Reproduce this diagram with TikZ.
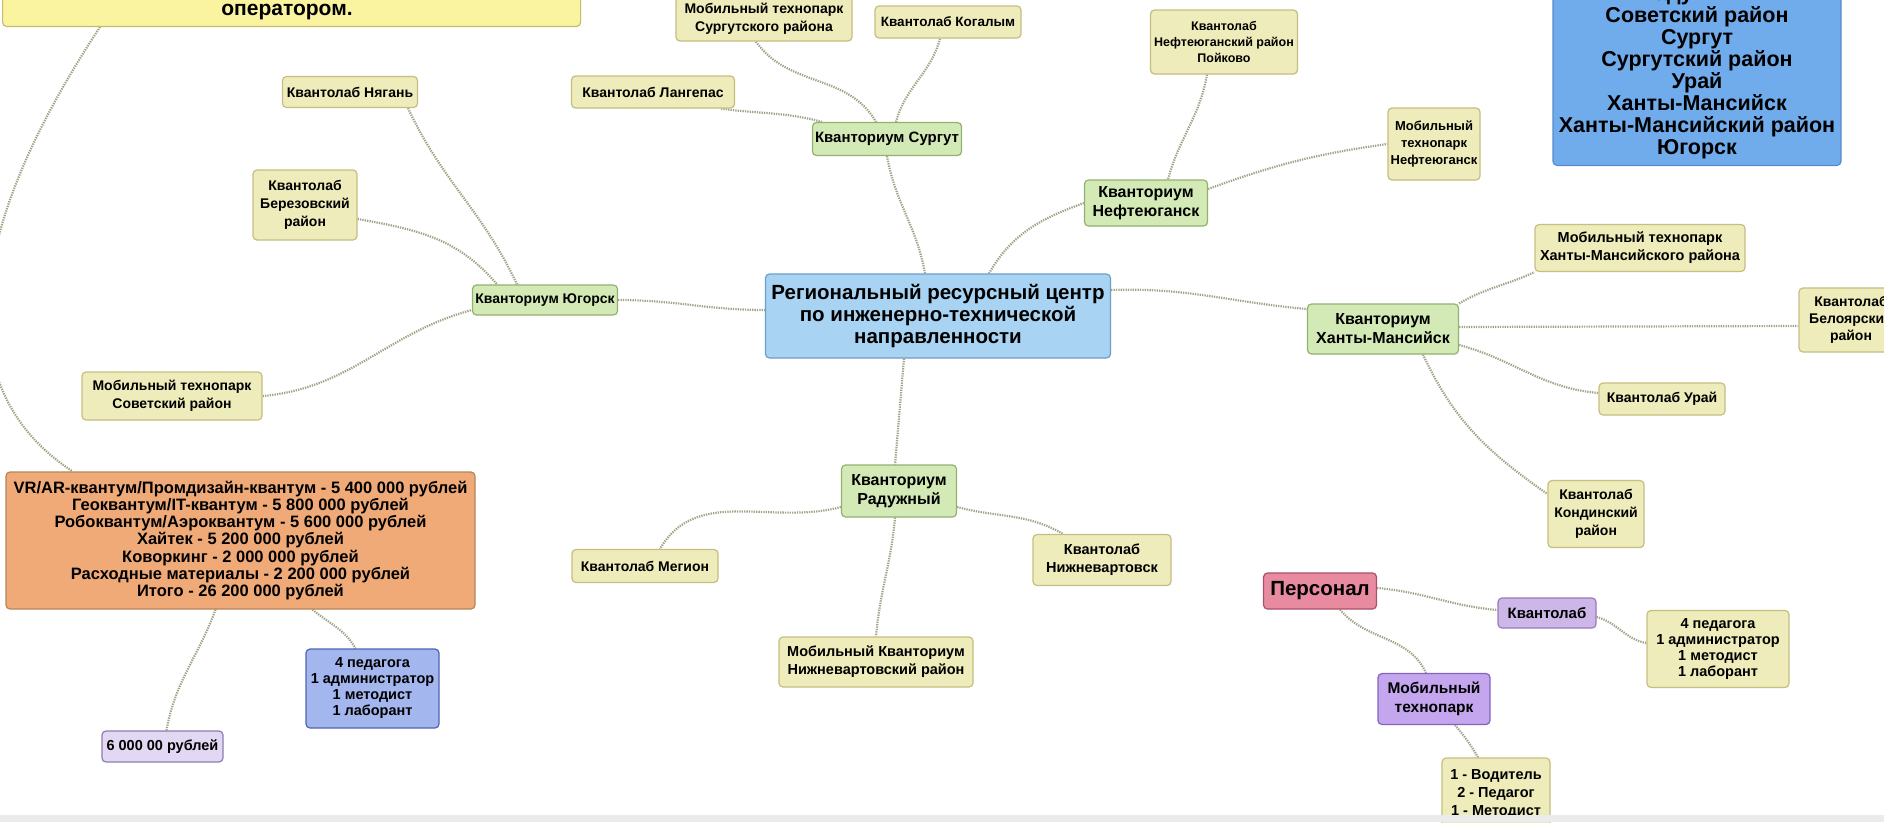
\documentclass[tikz,border=0pt]{standalone}
\usepackage{fontspec}
\setmainfont{Liberation Sans}
\usetikzlibrary{backgrounds}
\definecolor{ylfill}{RGB}{238,236,186}
\definecolor{yldraw}{RGB}{196,190,128}
\definecolor{gnfill}{RGB}{211,234,183}
\definecolor{gndraw}{RGB}{146,178,112}
\definecolor{ctrfill}{RGB}{168,211,242}
\definecolor{ctrdraw}{RGB}{110,158,200}
\definecolor{trfill}{RGB}{112,172,236}
\definecolor{trdraw}{RGB}{85,140,205}
\definecolor{topyfill}{RGB}{250,244,160}
\definecolor{topydraw}{RGB}{198,188,110}
\definecolor{orfill}{RGB}{240,170,120}
\definecolor{ordraw}{RGB}{178,134,90}
\definecolor{bsfill}{RGB}{163,182,238}
\definecolor{bsdraw}{RGB}{80,100,180}
\definecolor{monfill}{RGB}{226,216,244}
\definecolor{mondraw}{RGB}{140,125,175}
\definecolor{pkfill}{RGB}{232,138,160}
\definecolor{pkdraw}{RGB}{170,80,105}
\definecolor{klfill}{RGB}{205,182,232}
\definecolor{kldraw}{RGB}{150,125,185}
\definecolor{mpfill}{RGB}{196,166,238}
\definecolor{mpdraw}{RGB}{130,100,190}
\definecolor{lnk}{RGB}{162,162,134}
\newcommand\fz[2]{\fontsize{#1}{#2}\selectfont\bfseries}
\begin{document}
\begin{tikzpicture}[x=1pt,y=1pt]
\tikzset{
  box/.style={draw, rounded corners=4pt, line width=1.2pt, align=center, inner xsep=2pt, inner ysep=2pt, text=black},
  ybox/.style={box, fill=ylfill, draw=yldraw},
  gbox/.style={box, fill=gnfill, draw=gndraw},
  link/.style={draw=lnk, line width=2.2pt, dash pattern=on 1.3pt off 1.1pt},
}
\useasboundingbox (0,0) rectangle (1884,-822);
\clip (0,0) rectangle (1884,-822);

% top yellow note
\node[box, fill=topyfill, draw=topydraw, minimum width=578, minimum height=77, anchor=south west] (yeltop) at (2,-27) {};
\node[font=\fz{21}{24}] (yeltoptxt) at (287,-12) {оператором.};

% left cluster
\node[ybox, minimum width=135, minimum height=31, font=\fz{14}{17}] (nyagan) at (350,-92) {Квантолаб Нягань};
\node[ybox, minimum width=104, minimum height=70, font=\fz{14}{18}] (berez) at (305,-205) {Квантолаб\\Березовский\\район};
\node[gbox, minimum width=145, minimum height=30, font=\fz{14}{17}] (yugorsk) at (545,-300) {Кванториум Югорск};
\node[ybox, minimum width=180, minimum height=48, font=\fz{14}{18}] (sovet) at (172,-396) {Мобильный технопарк\\Советский район};

% Surgut cluster
\node[ybox, minimum width=163, minimum height=32, font=\fz{14}{17}] (langepas) at (653,-92) {Квантолаб Лангепас};
\node[ybox, minimum width=176, minimum height=44, font=\fz{14}{18}] (surgmob) at (764,-19) {Мобильный технопарк\\Сургутского района};
\node[ybox, minimum width=146, minimum height=32, font=\fz{13.5}{17}] (kogalym) at (948,-22) {Квантолаб Когалым};
\node[gbox, minimum width=149, minimum height=33, font=\fz{15}{18}] (surgut) at (887,-139) {Кванториум Сургут};

% Nefteyugansk cluster
\node[ybox, minimum width=147, minimum height=64, font=\fz{12.5}{16}] (neftpoik) at (1224,-42) {Квантолаб\\Нефтеюганский район\\Пойково};
\node[ybox, minimum width=92, minimum height=72, font=\fz{13}{17}] (neftmob) at (1434,-144) {Мобильный\\технопарк\\Нефтеюганск};
\node[gbox, minimum width=123, minimum height=46, font=\fz{16}{19}] (neft) at (1146,-203) {Кванториум\\Нефтеюганск};

% top right list
\node[box, fill=trfill, draw=trdraw, minimum width=288, inner ysep=6pt, anchor=south, font=\fz{21.5}{22}] (bluetr) at (1697,-166) {Радужный\\Советский район\\Сургут\\Сургутский район\\Урай\\Ханты-Мансийск\\Ханты-Мансийский район\\Югорск};

% center
\node[box, fill=ctrfill, draw=ctrdraw, minimum width=345, minimum height=84, font=\fz{20.5}{21.6}] (center) at (938,-316) {Региональный ресурсный центр\\по инженерно-технической\\направленности};

% Khanty-Mansiysk cluster
\node[ybox, minimum width=210, minimum height=47, font=\fz{14.5}{18}] (hmmob) at (1640,-248) {Мобильный технопарк\\Ханты-Мансийского района};
\node[gbox, minimum width=151, minimum height=50, font=\fz{16}{19}] (hm) at (1383,-329) {Кванториум\\Ханты-Мансийск};
\node[ybox, minimum width=104, minimum height=64, font=\fz{14}{17}] (belo) at (1851,-320) {Квантолаб\\Белоярский\\район};
\node[ybox, minimum width=126, minimum height=32, font=\fz{14}{17}] (urai) at (1662,-399) {Квантолаб Урай};
\node[ybox, minimum width=96, minimum height=67, font=\fz{14}{18}] (kond) at (1596,-514) {Квантолаб\\Кондинский\\район};

% Raduzhny cluster
\node[gbox, minimum width=115, minimum height=52, font=\fz{16}{19}] (raduzh) at (899,-491) {Кванториум\\Радужный};
\node[ybox, minimum width=146, minimum height=33, font=\fz{14}{17}] (megion) at (645,-566) {Квантолаб Мегион};
\node[ybox, minimum width=138, minimum height=51, font=\fz{14.5}{18}] (nizhn) at (1102,-560) {Квантолаб\\Нижневартовск};
\node[ybox, minimum width=194, minimum height=50, font=\fz{14.5}{18}] (mobnizh) at (876,-662) {Мобильный Кванториум\\Нижневартовский район};

% budget
\node[box, fill=orfill, draw=ordraw, minimum width=469, minimum height=137, font=\fz{16.5}{17.3}] (orange) at (240.5,-540.5) {VR/AR-квантум/Промдизайн-квантум - 5 400 000 рублей\\Геоквантум/IT-квантум - 5 800 000 рублей\\Робоквантум/Аэроквантум - 5 600 000 рублей\\Хайтек - 5 200 000 рублей\\Коворкинг - 2 000 000 рублей\\Расходные материалы - 2 200 000 рублей\\Итого - 26 200 000 рублей};
\node[box, fill=bsfill, draw=bsdraw, minimum width=133, minimum height=79, font=\fz{14.5}{16}] (bluestaff) at (372.5,-688.5) {4 педагога\\1 администратор\\1 методист\\1 лаборант};
\node[box, fill=monfill, draw=mondraw, minimum width=121, minimum height=31, font=\fz{14.5}{17}] (money) at (162.5,-746.5) {6 000 00 рублей};

% staff
\node[box, fill=pkfill, draw=pkdraw, minimum width=113, minimum height=36, font=\fz{20.5}{23}] (personal) at (1320,-591) {Персонал};
\node[box, fill=klfill, draw=kldraw, minimum width=98, minimum height=30, font=\fz{15}{18}] (klp) at (1547,-613) {Квантолаб};
\node[ybox, minimum width=142, minimum height=77, font=\fz{14.5}{16}] (staffy) at (1718,-649) {4 педагога\\1 администратор\\1 методист\\1 лаборант};
\node[box, fill=mpfill, draw=mpdraw, minimum width=112, minimum height=51, font=\fz{15.5}{19}] (mobp) at (1434,-699) {Мобильный\\технопарк};
\node[ybox, minimum width=108, minimum height=72, font=\fz{14.5}{18}] (driver) at (1496,-794) {1 - Водитель\\2 - Педагог\\1 - Методист};

\begin{pgfonlayer}{background}
\fill[white] (0,0) rectangle (1884,-822);
\draw[link] ([xshift=98pt]yeltop.south west) .. controls (-60,-270) and (-30,-404) .. ([xshift=-168pt]orange.north);
\draw[link] ([xshift=-25pt]orange.south) to[out=-110,in=80] ([xshift=4pt]money.north);
\draw[link] ([xshift=72pt]orange.south) to[out=-40,in=120] ([xshift=-17pt]bluestaff.north);

\draw[link] (yugorsk.east) to[out=0,in=180] ([yshift=6pt]center.west);
\draw[link] ([xshift=58pt]nyagan.south) to[out=-65,in=115] ([xshift=-28pt]yugorsk.north);
\draw[link] ([yshift=-14pt]berez.east) to[out=-10,in=130] ([xshift=-48pt]yugorsk.north);
\draw[link] (sovet.east) to[out=5,in=195] ([yshift=-10pt]yugorsk.west);

\draw[link] (surgut.south) to[out=-80,in=100] ([xshift=-13pt]center.north);
\draw[link] ([xshift=68pt]langepas.south) to[out=-8,in=165] ([xshift=-65pt]surgut.north);
\draw[link] ([xshift=-8pt]surgmob.south) to[out=-55,in=120] ([xshift=-11pt]surgut.north);
\draw[link] ([xshift=-8pt]kogalym.south) to[out=-105,in=75] ([xshift=9pt]surgut.north);

\draw[link] (neft.west) to[out=200,in=60] ([xshift=51pt]center.north);
\draw[link] ([xshift=-17pt]neftpoik.south) to[out=-100,in=75] ([xshift=22pt]neft.north);
\draw[link] ([yshift=14pt]neft.east) to[out=20,in=188] (neftmob.west);

\draw[link] ([yshift=26pt]center.east) to[out=2,in=175] ([yshift=20pt]hm.west);
\draw[link] (hm.north east) to[out=30,in=205] (hmmob.south west);
\draw[link] ([yshift=2pt]hm.east) -- ([yshift=-6pt]belo.west);
\draw[link] ([yshift=-16pt]hm.east) to[out=-15,in=175] ([yshift=6pt]urai.west);
\draw[link] ([xshift=40pt]hm.south) to[out=-65,in=145] ([yshift=20pt]kond.west);

\draw[link] ([xshift=-34pt]center.south) to[out=-95,in=85] ([xshift=-4pt]raduzh.north);
\draw[link] ([yshift=-16pt]raduzh.west) to[out=195,in=60] ([xshift=15pt]megion.north);
\draw[link] ([yshift=-16pt]raduzh.east) to[out=-15,in=150] ([xshift=-39pt]nizhn.north);
\draw[link] ([xshift=-4pt]raduzh.south) to[out=-95,in=85] (mobnizh.north);

\draw[link] ([yshift=3pt]personal.east) to[out=-5,in=175] ([yshift=3pt]klp.west);
\draw[link] ([yshift=-4pt]klp.east) to[out=-15,in=170] ([yshift=6pt]staffy.west);
\draw[link] ([xshift=20pt]personal.south) to[out=-50,in=115] ([xshift=-8pt]mobp.north);
\draw[link] ([xshift=21pt]mobp.south) to[out=-50,in=120] ([xshift=-18pt]driver.north);
\end{pgfonlayer}
\fill[black!8] (0,-815) rectangle (1884,-822);
\end{tikzpicture}
\end{document}
